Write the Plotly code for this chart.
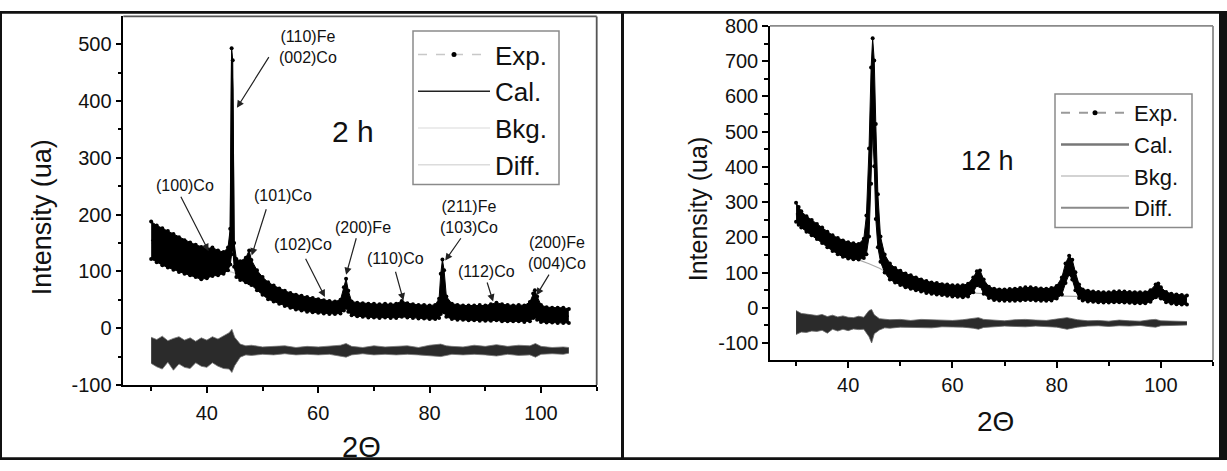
import plotly.graph_objects as go

FONT = "Arial, Liberation Sans, sans-serif"

# ---------------- Left panel (2 h) ----------------
L_exp_x = [30.0, 31, 32, 33, 34, 35, 36, 37, 38, 39, 40, 41, 42, 43, 43.8, 44.2, 44.45, 44.65, 44.9, 45.3,
           46, 47, 47.6, 48, 49, 50, 51, 52, 53, 54, 55, 56, 57, 58, 59, 60, 61, 62, 63, 64, 64.6, 65.0,
           65.4, 66, 67, 68, 69, 70, 71, 72, 73, 74, 75, 76, 77, 78, 79, 80, 81, 81.7, 82.0, 82.3, 82.6,
           83.0, 84, 85, 86, 87, 88, 89, 90, 91, 92, 93, 94, 95, 96, 97, 98, 98.6, 98.9, 99.3, 100, 101,
           102, 103, 104, 105]
L_exp_hi = [188, 181, 176, 171, 166, 160, 155, 151, 147, 143, 140, 142, 137, 134, 142, 175, 493, 472, 150, 122,
            118, 124, 137, 120, 102, 90, 81, 75, 70, 66, 62, 59, 57, 55, 53, 51, 49, 48, 47, 50, 72, 87,
            66, 47, 45, 44, 43, 43, 42, 43, 42, 43, 48, 44, 42, 41, 41, 40, 41, 52, 96, 121, 102,
            56, 43, 41, 40, 40, 40, 41, 40, 42, 45, 42, 41, 40, 41, 40, 46, 61, 67, 56, 41, 37,
            36, 36, 36, 34]
L_exp_lo = [122, 116, 111, 107, 103, 99, 96, 93, 90, 86, 88, 92, 93, 96, 102, 112, 130, 140, 108, 90,
            85, 81, 79, 76, 67, 59, 51, 47, 43, 39, 36, 33, 31, 29, 28, 27, 26, 25, 25, 26, 31, 36,
            29, 23, 21, 20, 19, 19, 18, 19, 18, 18, 20, 19, 18, 17, 17, 16, 16, 18, 25, 30, 28,
            20, 16, 15, 15, 14, 14, 13, 13, 13, 14, 12, 12, 12, 12, 11, 12, 18, 20, 15, 11, 10,
            10, 9, 9, 9]

L_cal_x = [30, 32, 34, 36, 38, 40, 41, 42, 43, 43.8, 44.2, 44.45, 44.65, 44.9, 45.3, 46, 47, 47.6, 48, 49, 50,
           52, 54, 56, 58, 60, 62, 64, 64.6, 65, 65.4, 66, 68, 70, 72, 74, 75, 76, 78, 80, 81.7, 82, 82.3,
           82.6, 83, 84, 86, 88, 90, 92, 94, 96, 98, 98.6, 98.9, 99.3, 100, 102, 104, 105]
L_cal_y = [155, 143, 133, 124, 117, 114, 116, 113, 114, 120, 140, 470, 420, 130, 104, 100, 100, 108, 97, 83, 73,
           60, 52, 45, 41, 38, 36, 38, 50, 62, 48, 34, 32, 30, 31, 30, 33, 31, 29, 28, 34, 60, 75,
           64, 38, 29, 27, 27, 26, 28, 26, 26, 28, 39, 43, 35, 26, 23, 22, 21]

L_bkg_x = [30, 32, 34, 36, 38, 40, 42, 44, 46, 48, 50, 52, 54, 56, 58, 60, 65, 70, 75, 80, 85, 90, 95, 100, 105]
L_bkg_y = [150, 138, 128, 120, 113, 108, 104, 100, 94, 82, 70, 60, 52, 46, 41, 38, 32, 29, 27, 26, 25, 24, 23, 22, 21]

L_diff_x = [30, 31, 32, 33, 34, 35, 36, 37, 38, 39, 40, 41, 42, 43, 44, 44.5, 45, 46, 47, 48, 50, 52, 54, 56,
            58, 60, 62, 64, 65, 66, 68, 70, 72, 74, 76, 78, 80, 82, 83, 84, 86, 88, 90, 92, 94, 96, 98,
            99, 100, 102, 104, 105]
L_diff_hi = [-16, -20, -14, -22, -18, -15, -21, -17, -23, -17, -21, -15, -19, -14, -8, -2, -16, -28, -31, -30,
             -33, -32, -31, -34, -32, -33, -31, -30, -27, -32, -34, -31, -33, -32, -31, -34, -30, -28, -31,
             -32, -33, -30, -32, -29, -32, -30, -31, -27, -32, -34, -33, -34]
L_diff_lo = [-62, -68, -72, -60, -74, -63, -69, -71, -61, -67, -69, -61, -67, -71, -72, -78, -66, -51, -47, -48,
             -46, -47, -45, -47, -46, -47, -46, -49, -51, -47, -45, -47, -46, -47, -46, -47, -48, -50, -48,
             -46, -47, -46, -47, -49, -46, -48, -47, -51, -46, -45, -46, -44]

# ---------------- Right panel (12 h) ----------------
R_exp_x = [30.0, 30.5, 31, 32, 33, 34, 35, 36, 37, 38, 39, 40, 41, 42, 43, 43.5, 44.0, 44.4, 44.7, 45.0, 45.3,
           45.7, 46.2, 47, 48, 49, 50, 51, 52, 53, 54, 55, 56, 57, 58, 59, 60, 61, 62, 63, 64, 64.7, 65.3,
           66, 67, 68, 69, 70, 71, 72, 73, 74, 75, 76, 77, 78, 79, 80, 81, 81.7, 82.4, 83.0, 83.6, 84.3,
           85, 86, 87, 88, 89, 90, 91, 92, 93, 94, 95, 96, 97, 98, 99, 99.5, 100, 101, 102, 103, 104, 105]
R_exp_hi = [298, 286, 274, 260, 249, 238, 228, 216, 206, 198, 191, 186, 183, 181, 196, 262, 452, 682, 765, 702, 522,
            322, 202, 151, 126, 113, 105, 97, 92, 86, 80, 76, 72, 70, 67, 66, 64, 64, 64, 68, 86, 104, 106,
            80, 60, 54, 52, 52, 53, 54, 56, 58, 58, 56, 55, 54, 56, 62, 86, 126, 148, 136, 101, 66,
            52, 48, 46, 45, 44, 44, 46, 47, 46, 45, 44, 44, 44, 50, 66, 69, 58, 45, 40, 38, 36, 35]
R_exp_lo = [244, 236, 228, 216, 206, 195, 184, 172, 161, 152, 145, 140, 138, 137, 141, 152, 202, 352, 502, 402, 252,
            172, 131, 100, 80, 72, 65, 58, 54, 50, 46, 42, 40, 38, 36, 34, 32, 31, 30, 32, 44, 64, 62,
            40, 28, 22, 21, 20, 20, 20, 21, 22, 22, 21, 20, 20, 21, 26, 38, 70, 95, 80, 50, 28,
            21, 18, 17, 16, 15, 15, 16, 16, 15, 14, 13, 13, 13, 17, 30, 34, 26, 16, 12, 10, 9, 9]

R_cal_x = [30, 32, 34, 36, 38, 40, 42, 43, 43.5, 44, 44.4, 44.7, 45, 45.3, 45.7, 46.2, 47, 48, 50, 52, 54, 56, 58,
           60, 62, 63, 64, 64.7, 65.3, 66, 67, 68, 70, 72, 74, 76, 78, 80, 81, 81.7, 82.4, 83, 83.6, 84.3, 85,
           88, 92, 96, 98, 99, 99.5, 100, 101, 103, 105]
R_cal_y = [268, 236, 216, 192, 174, 162, 158, 168, 205, 325, 515, 690, 550, 385, 245, 165, 125, 102, 85, 73, 63, 56, 51,
           48, 48, 51, 65, 84, 83, 61, 45, 40, 38, 39, 42, 40, 39, 45, 62, 98, 122, 108, 75, 48, 38,
           32, 34, 31, 36, 48, 52, 43, 32, 26, 24]

R_bkg_x = [30, 32, 34, 36, 38, 40, 42, 44, 46, 48, 50, 53, 56, 60, 65, 70, 75, 80, 84, 88, 92, 96, 100, 105]
R_bkg_y = [262, 228, 205, 182, 162, 148, 136, 125, 112, 96, 80, 62, 52, 45, 40, 37, 35, 33, 31, 30, 29, 28, 27, 25]

R_diff_x = [30, 31, 32, 33, 34, 35, 36, 37, 38, 39, 40, 41, 42, 43, 44, 44.5, 45, 46, 47, 48, 50, 52, 54, 56,
            58, 60, 62, 64, 65, 66, 68, 70, 72, 74, 76, 78, 80, 82, 83, 84, 86, 88, 90, 92, 94, 96, 98,
            99, 100, 102, 104, 105]
R_diff_hi = [-8, -16, -18, -21, -22, -19, -25, -21, -26, -23, -27, -28, -24, -27, -8, -5, -20, -31, -32, -34,
             -33, -36, -33, -34, -33, -36, -34, -30, -28, -33, -35, -37, -34, -33, -35, -36, -32, -28, -31,
             -34, -37, -36, -38, -35, -37, -38, -34, -33, -37, -38, -39, -39]
R_diff_lo = [-76, -69, -70, -66, -67, -64, -72, -61, -66, -61, -65, -60, -62, -61, -82, -100, -74, -63, -57, -58,
             -55, -56, -55, -57, -54, -54, -55, -58, -61, -56, -53, -52, -53, -54, -52, -53, -55, -61, -57,
             -55, -52, -51, -53, -51, -52, -50, -54, -55, -51, -50, -51, -49]

legend_names = ["Exp.", "Cal.", "Bkg.", "Diff."]

L_ytick_vals = [-100, 0, 100, 200, 300, 400, 500]
L_ytick_text = ["-100", "0", "100", "200", "300", "400", "500"]
R_ytick_vals = [-100, 0, 100, 200, 300, 400, 500, 600, 700, 800]
R_ytick_text = ["-100", "0", "100", "200", "300", "400", "500", "600", "700", "800"]

# peak labels (left panel): text, label position, arrow tail, arrow head (data coords)
peak_text = ["(110)Fe<br>(002)Co", "(100)Co", "(101)Co", "(102)Co", "(200)Fe", "(110)Co",
             "(211)Fe<br>(103)Co", "(112)Co", "(200)Fe<br>(004)Co"]
peak_lab_x = [58.2, 36.1, 53.7, 57.3, 68.1, 73.8, 87.1, 90.25, 102.8]
peak_lab_y = [496, 251, 234, 147, 178, 122, 195, 100, 132]
peak_tail_x = [51.3, 35.2, 50.75, 57.6, 66.9, 73.8, 85.8, 90.25, 101.6]
peak_tail_y = [480, 234, 212, 125, 161, 102, 161, 83, 97]
peak_head_x = [45.4, 40.3, 48.05, 61.2, 65.0, 75.3, 82.8, 91.4, 99.2]
peak_head_y = [388, 136, 128, 55, 94, 49, 119, 47, 58]

W, H = 1227, 471
fig = go.Figure()


def add_panel(xa, ya, exp_x, hi, lo, cal_x, cal_y, bkg_x, bkg_y, d_x, d_hi, d_lo,
              cal_col, bkg_col, diff_col, msize):
    fig.add_trace(go.Scatter(x=bkg_x, y=bkg_y, mode="lines", line=dict(color=bkg_col, width=1.2),
                             xaxis=xa, yaxis=ya, showlegend=False, name="Bkg."))
    fig.add_trace(go.Scatter(x=cal_x, y=cal_y, mode="lines", line=dict(color=cal_col, width=1.5),
                             xaxis=xa, yaxis=ya, showlegend=False, name="Cal."))
    fig.add_trace(go.Scatter(x=exp_x, y=hi, mode="lines+markers", line=dict(color="black", width=1),
                             marker=dict(color="black", size=msize), xaxis=xa, yaxis=ya,
                             showlegend=False, name="Exp."))
    fig.add_trace(go.Scatter(x=exp_x, y=lo, mode="lines+markers", line=dict(color="black", width=1),
                             marker=dict(color="black", size=msize), fill="tonexty", fillcolor="black",
                             xaxis=xa, yaxis=ya, showlegend=False, name="Exp."))
    fig.add_trace(go.Scatter(x=d_x, y=d_hi, mode="lines", line=dict(color=diff_col, width=0.8),
                             xaxis=xa, yaxis=ya, showlegend=False, name="Diff."))
    fig.add_trace(go.Scatter(x=d_x, y=d_lo, mode="lines", line=dict(color=diff_col, width=0.8),
                             fill="tonexty", fillcolor="#2b2b2b", xaxis=xa, yaxis=ya,
                             showlegend=False, name="Diff."))


add_panel("x", "y", L_exp_x, L_exp_hi, L_exp_lo, L_cal_x, L_cal_y, L_bkg_x, L_bkg_y,
          L_diff_x, L_diff_hi, L_diff_lo, "#111", "#cccccc", "#777", 4)
add_panel("x2", "y2", R_exp_x, R_exp_hi, R_exp_lo, R_cal_x, R_cal_y, R_bkg_x, R_bkg_y,
          R_diff_x, R_diff_hi, R_diff_lo, "#444", "#aaaaaa", "#666", 4)

# legend entries
left_styles = [dict(color="#c8c8c8", width=1.5, dash="dash"), dict(color="#222", width=1.5),
               dict(color="#e6e6e6", width=1.5), dict(color="#dcdcdc", width=1.5)]
right_styles = [dict(color="#9a9a9a", width=2, dash="dash"), dict(color="#777", width=2.5),
                dict(color="#c4c4c4", width=1.5), dict(color="#8a8a8a", width=2)]
for i, nm in enumerate(legend_names):
    fig.add_trace(go.Scatter(x=[None], y=[None], name=nm, mode="lines+markers" if i == 0 else "lines",
                             line=left_styles[i], marker=dict(color="black", size=5),
                             xaxis="x", yaxis="y", legend="legend"))
for i, nm in enumerate(legend_names):
    fig.add_trace(go.Scatter(x=[None], y=[None], name=nm, mode="lines+markers" if i == 0 else "lines",
                             line=right_styles[i], marker=dict(color="black", size=5),
                             xaxis="x2", yaxis="y2", legend="legend2"))

axis_common = dict(showgrid=False, zeroline=False, ticks="outside", ticklen=6, tickwidth=1.5,
                   tickcolor="black", linecolor="black", linewidth=1.5, showline=True,
                   tickfont=dict(family=FONT, size=20, color="#111"))
minor_x = dict(dtick=10, tick0=0, ticks="outside", ticklen=4, tickwidth=1.5, tickcolor="black")
minor_y = dict(dtick=50, tick0=0, ticks="outside", ticklen=4, tickwidth=1.5, tickcolor="black")

fig.update_layout(
    width=W, height=H, margin=dict(l=0, r=0, t=0, b=0),
    paper_bgcolor="white", plot_bgcolor="white",
    xaxis=dict(domain=[123.3 / W, 596.7 / W], range=[25, 110], dtick=20, tick0=0, minor=minor_x,
               anchor="y", ticklabelstandoff=3, **axis_common),
    yaxis=dict(domain=[(H - 392.3) / H, (H - 5.7) / H], range=[-100, 549], tickmode="array",
               tickvals=L_ytick_vals, ticktext=L_ytick_text, minor=minor_y, anchor="x", **axis_common),
    xaxis2=dict(domain=[770 / W, 1213 / W], range=[25, 110], dtick=20, tick0=0, minor=minor_x,
                anchor="y2", **axis_common),
    yaxis2=dict(domain=[(H - 366) / H, (H - 15.7) / H], range=[-148, 800], tickmode="array",
                tickvals=R_ytick_vals, ticktext=R_ytick_text, minor=minor_y, anchor="x2", **axis_common),
    legend=dict(x=413 / W, y=(H - 21) / H, xanchor="left", yanchor="top", bgcolor="rgba(0,0,0,0)",
                borderwidth=0, itemwidth=72, traceorder="normal",
                font=dict(family=FONT, size=26, color="#111")),
    legend2=dict(x=1056 / W, y=(H - 85) / H, xanchor="left", yanchor="top", bgcolor="rgba(0,0,0,0)",
                 borderwidth=0, itemwidth=68, traceorder="normal",
                 font=dict(family=FONT, size=22, color="#111")),
)

# legend frames
for (bx0, bx1, by0, by1) in [(413, 559, 21, 182), (1055, 1192, 87, 227)]:
    fig.add_shape(type="rect", xref="paper", yref="paper", x0=bx0 / W, x1=bx1 / W,
                  y0=(H - by1) / H, y1=(H - by0) / H, fillcolor="white",
                  line=dict(color="#8a8a8a", width=1.5), layer="above")

# top / right frame lines (mirror spines, greyish)
for xr, yr, col in [("x domain", "y domain", "#555"), ("x2 domain", "y2 domain", "#8a8a8a")]:
    fig.add_shape(type="line", xref=xr, yref=yr, x0=0, x1=1, y0=1, y1=1, line=dict(color=col, width=1.8))
    fig.add_shape(type="line", xref=xr, yref=yr, x0=1, x1=1, y0=0, y1=1, line=dict(color=col, width=1.8))

# image border / divider
for (x0, x1, y0, y1) in [(0, 1, (H - 3) / H, 1), (0, 1, 0, 3 / H), (0, 2 / W, 0, 1),
                         (1219 / W, 1, 0, 1), (621 / W, 624 / W, 0, 1)]:
    fig.add_shape(type="rect", xref="paper", yref="paper", x0=x0, x1=x1, y0=y0, y1=y1,
                  fillcolor="#111", line=dict(width=0))

# axis titles and panel labels
txt = dict(family=FONT, color="#111")
ctr = dict(xanchor="center", yanchor="middle", showarrow=False)
fig.add_annotation(text="Intensity (ua)", xref="paper", yref="paper", x=41.5 / W, y=(H - 217) / H,
                   textangle=-90, font=dict(size=27, **txt), **ctr)
fig.add_annotation(text="2\u0398", xref="paper", yref="paper", x=361.7 / W, y=(H - 457) / H,
                   font=dict(size=29, **txt), **ctr)
fig.add_annotation(text="Intensity (ua)", xref="paper", yref="paper", x=698 / W, y=(H - 208) / H,
                   textangle=-90, font=dict(size=25, **txt), **ctr)
fig.add_annotation(text="2\u0398", xref="paper", yref="paper", x=995 / W, y=(H - 431) / H,
                   font=dict(size=28, **txt), **ctr)
fig.add_annotation(text="2 h", xref="x", yref="y", x=66.3, y=346, font=dict(size=30, **txt), **ctr)
fig.add_annotation(text="12 h", xref="x2", yref="y2", x=66.8, y=418, font=dict(size=27, **txt), **ctr)

for i, t in enumerate(peak_text):
    fig.add_annotation(text=t, xref="x", yref="y", x=peak_lab_x[i], y=peak_lab_y[i],
                       font=dict(size=16, **txt), **ctr)
    fig.add_annotation(text="", xref="x", yref="y", x=peak_head_x[i], y=peak_head_y[i],
                       axref="x", ayref="y", ax=peak_tail_x[i], ay=peak_tail_y[i], showarrow=True,
                       arrowhead=2, arrowsize=1.2, arrowwidth=1.2, arrowcolor="#222")

fig.write_html("out.html")
